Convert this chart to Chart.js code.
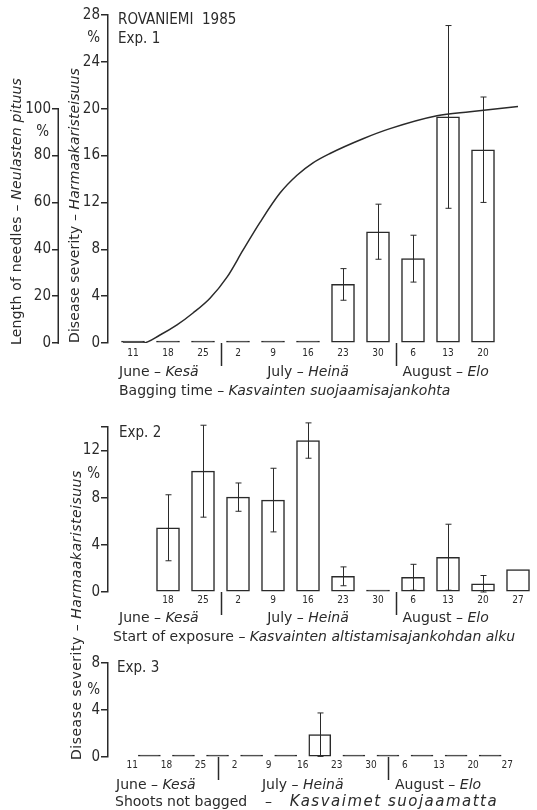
<!DOCTYPE html>
<html>
<head>
<meta charset="utf-8">
<script src="https://cdn.jsdelivr.net/npm/chart.js@4.4.1/dist/chart.umd.min.js"></script>
<style>
  html, body { margin: 0; padding: 0; background: #fff; }
  #wrap { position: relative; width: 537px; height: 810px; }
  #wrap canvas { position: absolute; left: 0; top: 0; }
</style>
</head>
<body>
<div id="wrap">
  <canvas id="c1" width="537" height="810"></canvas>
  <canvas id="c2" width="537" height="810"></canvas>
  <canvas id="c3" width="537" height="810"></canvas>
</div>
<script>
// Dates are counted as days after 1 June 1985.

// Exp. 1: shoots bagged from the given date
const exp1Labels   = ['11', '18', '25', '2', '9', '16', '23', '30', '6', '13', '20'];
const exp1Days     = [10, 17, 24, 31, 38, 45, 52, 59, 66, 73, 80];
const exp1Severity = [0, 0, 0, 0, 0, 0, 5.0, 9.5, 7.2, 19.3, 16.5];
const exp1Sd       = [0, 0, 0, 0, 0, 0, 1.35, 2.35, 2.0, 7.8, 4.5];

// Needle elongation, % of final length
const growthDays   = [8, 12, 15.4, 18.8, 22, 25.4, 28.8, 32, 35.4, 39.4, 42.8, 46, 49.4, 56, 61.4, 70.8, 77.4, 87];
const growthLength = [0, 0, 3.4, 7.7, 12.8, 19.1, 28.1, 39.6, 51.5, 64, 71.6, 76.9, 80.9, 87.2, 91.5, 97, 98.7, 100.9];

// Exp. 2: start of exposure
const exp2Labels   = ['18', '25', '2', '9', '16', '23', '30', '6', '13', '20', '27'];
const exp2Days     = [17, 24, 31, 38, 45, 52, 59, 66, 73, 80, 87];
const exp2Severity = [5.45, 10.25, 8.05, 7.8, 12.85, 1.33, 0, 1.25, 2.95, 0.7, 1.9];
const exp2Sd       = [2.8, 3.9, 1.2, 2.7, 1.5, 0.8, 0, 1.1, 2.8, 0.7, 0];

// Exp. 3: shoots not bagged, one value per week between the dates
const exp3Labels   = ['11', '18', '25', '2', '9', '16', '23', '30', '6', '13', '20', '27'];
const exp3Days     = [10, 17, 24, 31, 38, 45, 52, 59, 66, 73, 80, 87];
const exp3Severity = [0, 0, 0, 0, 0, 1.9, 0, 0, 0, 0, 0];
const exp3Sd       = [0, 0, 0, 0, 0, 1.85, 0, 0, 0, 0, 0];

// June/July and July/August boundaries
const monthBreaks = [27.5, 62.5];

const INK = '#2a2a2a';
const TEXT_FONT = '"DejaVu Sans", sans-serif';
const HEAD_FONT = '"DejaVu Sans Condensed", "DejaVu Sans", sans-serif';
const TICK_FONT = '"Liberation Sans Narrow", "DejaVu Sans Condensed", sans-serif';

// parts: [text, italic, extra letter spacing in px, font size]
function richText(ctx, parts, x, y, opt = {}) {
  const size = opt.size || 14, align = opt.align || 'left', family = opt.family || TEXT_FONT;
  ctx.save();
  ctx.translate(x, y);
  if (opt.angle) ctx.rotate(opt.angle);
  ctx.fillStyle = INK;
  ctx.textBaseline = 'middle';
  ctx.textAlign = 'left';
  const fonts = parts.map(p => (p[1] ? 'italic ' : '') + (p[3] || size) + 'px ' + family);
  const widths = parts.map((p, i) => {
    ctx.font = fonts[i];
    ctx.letterSpacing = '0px';
    return ctx.measureText(p[0]).width + (p[2] || 0) * p[0].length;
  });
  const total = widths.reduce((a, b) => a + b, 0);
  let cx = align === 'center' ? -total / 2 : align === 'right' ? -total : 0;
  parts.forEach((p, i) => {
    ctx.font = fonts[i];
    ctx.letterSpacing = (p[2] || 0) + 'px';
    ctx.fillText(p[0], cx, 0);
    cx += widths[i];
  });
  ctx.restore();
}

function seg(ctx, x1, y1, x2, y2, w) {
  ctx.save();
  ctx.strokeStyle = INK;
  ctx.lineWidth = w || 1.5;
  ctx.beginPath(); ctx.moveTo(x1, y1); ctx.lineTo(x2, y2); ctx.stroke();
  ctx.restore();
}

function noPad(s) { s.paddingTop = 0; s.paddingBottom = 0; s.paddingLeft = 0; s.paddingRight = 0; }

function xAxis(min, max, days, labels, pad) {
  return {
    type: 'linear', position: 'bottom', min, max, offset: false,
    grid: { display: false, drawTicks: false },
    border: { display: false },
    afterBuildTicks: s => { s.ticks = days.map(v => ({ value: v })); },
    ticks: { autoSkip: false, maxRotation: 0, minRotation: 0, padding: pad, color: INK,
             font: { family: HEAD_FONT, size: 10 }, callback: (v, i) => labels[i] },
    afterFit: s => { s.height = 20; noPad(s); }
  };
}

function yAxis(max, tickVals, labelled, width, extra) {
  return Object.assign({
    type: 'linear', position: 'left', min: 0, max,
    afterBuildTicks: s => { s.ticks = tickVals.map(v => ({ value: v })); },
    grid: { drawOnChartArea: false, drawTicks: true, tickLength: 7, color: INK, lineWidth: 1.5 },
    border: { display: true, color: INK, width: 1.5 },
    ticks: { padding: 1, color: INK, font: { family: TICK_FONT, size: 15 },
             callback: v => labelled.includes(v) ? String(v) : '' },
    afterFit: s => { s.width = width; noPad(s); }
  }, extra || {});
}

function barSet(points, thickness) {
  return {
    type: 'bar', data: points, xAxisID: 'x', yAxisID: 'y',
    // empty weeks show as a flat dark bar on the baseline
    backgroundColor: c => (c.raw && c.raw.y === 0 ? INK : '#fff'),
    borderColor: INK, borderWidth: 1.5, borderSkipped: false,
    barThickness: thickness, minBarLength: 2, order: 1
  };
}

function errorBars(chart, sds) {
  const ctx = chart.ctx, y = chart.scales.y;
  const pts = chart.data.datasets[0].data;
  chart.getDatasetMeta(0).data.forEach((bar, i) => {
    const sd = sds[i];
    if (!sd) return;
    const top = y.getPixelForValue(pts[i].y + sd);
    const bot = y.getPixelForValue(Math.max(0, pts[i].y - sd));
    const px = Math.round(bar.x) + 0.5;
    seg(ctx, px, top, px, bot, 1);
    seg(ctx, px - 3, top, px + 3, top, 1);
    seg(ctx, px - 3, bot, px + 3, bot, 1);
  });
}

function monthRow(chart, dy, junLeft) {
  const ctx = chart.ctx, x = chart.scales.x, ca = chart.chartArea;
  const base = chart.scales.y.getPixelForValue(0);
  const s1 = x.getPixelForValue(monthBreaks[0]), s2 = x.getPixelForValue(monthBreaks[1]);
  monthBreaks.forEach(d => {
    const px = Math.round(x.getPixelForValue(d)) + 0.5;
    seg(ctx, px, base, px, base + 23, 1.5);
  });
  richText(ctx, [['June – ', false], ['Kesä', true]], ca.left + junLeft, base + dy);
  richText(ctx, [['July – ', false], ['Heinä', true]], (s1 + s2) / 2, base + dy, { align: 'center' });
  richText(ctx, [['August – ', false], ['Elo', true]], s2 + 7, base + dy);
}

const common = {
  responsive: false, animation: false, devicePixelRatio: 1, events: [],
  plugins: { legend: { display: false }, tooltip: { enabled: false } }
};

// ---------- Exp. 1 ----------
new Chart(document.getElementById('c1'), {
  data: {
    datasets: [
      barSet(exp1Days.map((d, i) => ({ x: d, y: exp1Severity[i] })), 23),
      { type: 'line', data: growthDays.map((d, i) => ({ x: d, y: growthLength[i] })),
        xAxisID: 'x', yAxisID: 'yLen', borderColor: INK, borderWidth: 1.5,
        pointRadius: 0, cubicInterpolationMode: 'monotone', fill: false, order: 2 }
    ]
  },
  options: Object.assign({}, common, {
    layout: { padding: { left: 0, right: 4, top: 15, bottom: 447 } },
    scales: {
      x: xAxis(5, 90, exp1Days, exp1Labels, 4),
      y: yAxis(28, [0, 4, 8, 12, 16, 20, 24, 28], [0, 4, 8, 12, 16, 20, 24, 28], 49),
      yLen: yAxis(140, [0, 20, 40, 60, 80, 100], [0, 20, 40, 60, 80, 100], 59,
                  { border: { display: false } })
    }
  }),
  plugins: [{
    id: 'exp1Decor',
    afterDatasetsDraw(chart) { errorBars(chart, exp1Sd); },
    afterDraw(chart) {
      const ctx = chart.ctx, ca = chart.chartArea, y = chart.scales.y, yLen = chart.scales.yLen;
      const lx = Math.round(yLen.right) - 0.75;
      seg(ctx, lx, yLen.getPixelForValue(0) + 0.75, lx, yLen.getPixelForValue(100) - 0.75, 1.5);
      richText(ctx, [['%', false]], y.right - 8, y.getPixelForValue(26), { size: 15, align: 'right', family: HEAD_FONT });
      richText(ctx, [['%', false]], yLen.right - 10, yLen.getPixelForValue(90), { size: 15, align: 'right', family: HEAD_FONT });
      richText(ctx, [['ROVANIEMI  1985', false]], ca.left + 10, 20, { size: 15, family: HEAD_FONT });
      richText(ctx, [['Exp. 1', false]], ca.left + 10, 39, { size: 15, family: HEAD_FONT });
      richText(ctx, [['Length of needles – ', false, 0.2], ['Neulasten pituus', true, 0.2]],
               yLen.left + 17, yLen.getPixelForValue(0) + 2, { size: 14, angle: -Math.PI / 2 });
      richText(ctx, [['Disease severity – ', false, 0.1], ['Harmaakaristeisuus', true, 0.1]],
               y.left + 16, y.getPixelForValue(0), { size: 14, angle: -Math.PI / 2 });
      monthRow(chart, 29, 11);
      const base = y.getPixelForValue(0);
      richText(ctx, [['Bagging time – ', false], ['Kasvainten suojaamisajankohta', true]],
               ca.left + 11, base + 48);
    }
  }]
});

// ---------- Exp. 2 ----------
new Chart(document.getElementById('c2'), {
  data: { datasets: [barSet(exp2Days.map((d, i) => ({ x: d, y: exp2Severity[i] })), 23)] },
  options: Object.assign({}, common, {
    layout: { padding: { left: 0, right: 4, top: 427, bottom: 198 } },
    scales: {
      x: xAxis(5, 90, exp2Days, exp2Labels, 2),
      y: yAxis(14, [0, 4, 8, 12, 14], [0, 4, 8, 12], 108)
    }
  }),
  plugins: [{
    id: 'exp2Decor',
    afterDatasetsDraw(chart) { errorBars(chart, exp2Sd); },
    afterDraw(chart) {
      const ctx = chart.ctx, ca = chart.chartArea, y = chart.scales.y;
      richText(ctx, [['%', false]], y.right - 8, y.getPixelForValue(10), { size: 15, align: 'right', family: HEAD_FONT });
      richText(ctx, [['Exp. 2', false]], ca.left + 11, y.getPixelForValue(13.5), { size: 15, family: HEAD_FONT });
      monthRow(chart, 26, 11);
      const base = y.getPixelForValue(0);
      richText(ctx, [['Start of exposure – ', false], ['Kasvainten altistamisajankohdan alku', true]],
               ca.left + 5, base + 45);
    }
  }]
});

// ---------- Exp. 3 ----------
const exp3Mid = exp3Severity.map((v, i) => ({ x: (exp3Days[i] + exp3Days[i + 1]) / 2, y: v }));
new Chart(document.getElementById('c3'), {
  data: { datasets: [barSet(exp3Mid, 22)] },
  options: Object.assign({}, common, {
    layout: { padding: { left: 0, right: 4, top: 663, bottom: 33 } },
    scales: {
      x: xAxis(5, 92.3, exp3Days, exp3Labels, 2),
      y: yAxis(8, [0, 4, 8], [0, 4, 8], 108)
    }
  }),
  plugins: [{
    id: 'exp3Decor',
    afterDatasetsDraw(chart) { errorBars(chart, exp3Sd); },
    afterDraw(chart) {
      const ctx = chart.ctx, ca = chart.chartArea, y = chart.scales.y;
      richText(ctx, [['%', false]], y.right - 8, y.getPixelForValue(5.7), { size: 15, align: 'right', family: HEAD_FONT });
      richText(ctx, [['Exp. 3', false]], ca.left + 9, y.getPixelForValue(7.6), { size: 15, family: HEAD_FONT });
      monthRow(chart, 28, 8);
      const base = y.getPixelForValue(0);
      richText(ctx, [['Shoots not bagged    –    ', false], ['Kasvaimet suojaamatta', true, 1.5, 15]],
               ca.left + 7, base + 45);
      // shared axis title for Exp. 2 and Exp. 3
      richText(ctx, [['Disease severity – ', false, 0.5], ['Harmaakaristeisuus', true, 0.5]],
               77, base + 3, { size: 14, angle: -Math.PI / 2 });
    }
  }]
});
</script>
</body>
</html>
